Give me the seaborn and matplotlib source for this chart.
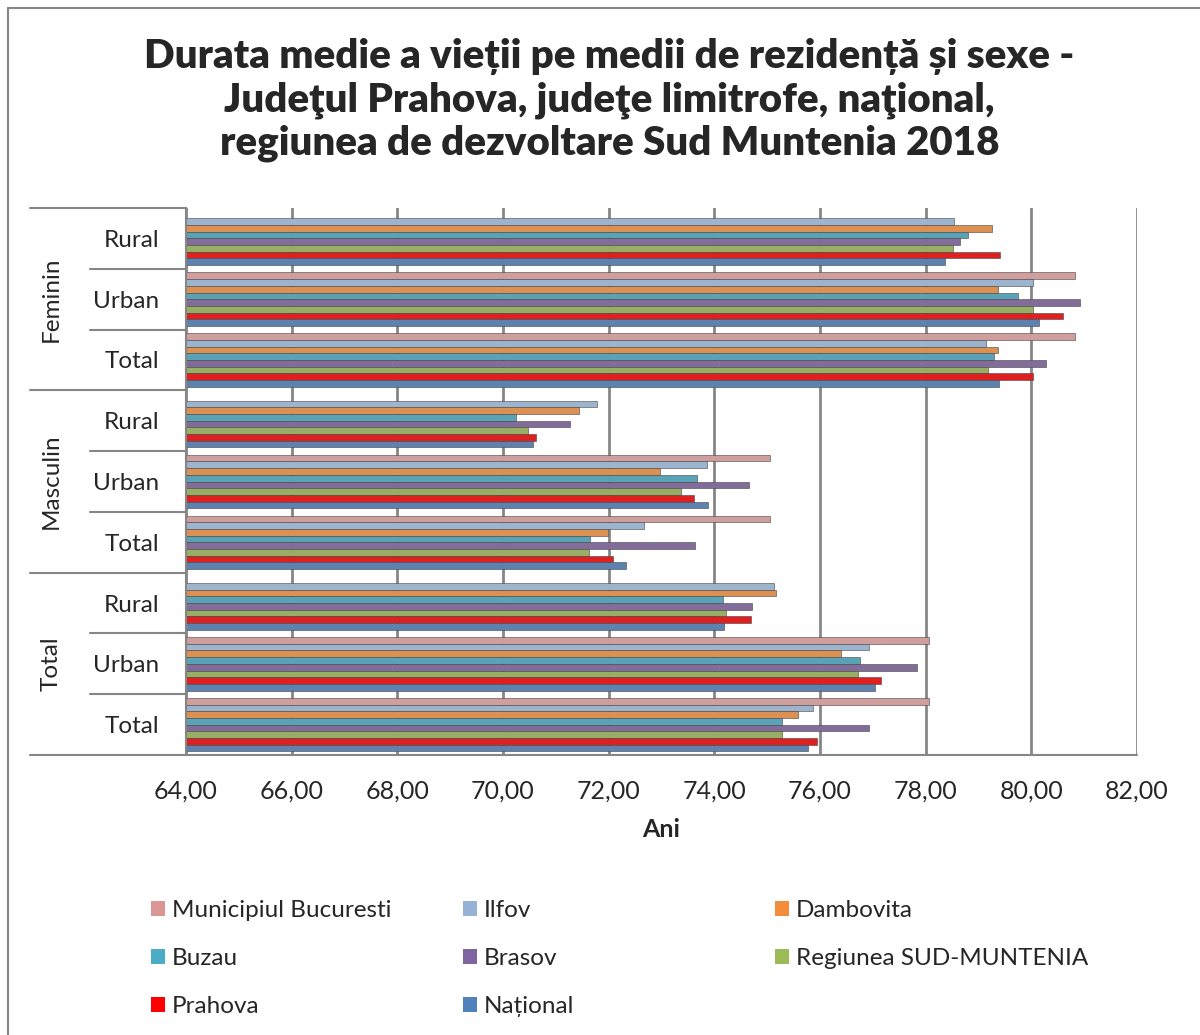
import matplotlib
matplotlib.use('Agg')
import matplotlib.pyplot as plt
from matplotlib.lines import Line2D
from matplotlib.patches import Patch
from matplotlib.ticker import FuncFormatter
import seaborn as sns
import numpy as np
import pandas as pd

# categories (top to bottom): sex / mediu
sexe = ['Feminin', 'Masculin', 'Total']
medii = ['Rural', 'Urban', 'Total']

regiuni = ['Municipiul Bucuresti', 'Ilfov', 'Dambovita', 'Buzau', 'Brasov',
           'Regiunea SUD-MUNTENIA', 'Prahova', 'Național']

# values in order F-R, F-U, F-T, M-R, M-U, M-T, T-R, T-U, T-T
bucuresti = [np.nan, 80.83, 80.83, np.nan, 75.05, 75.05, np.nan, 78.06, 78.06]
ilfov = [78.53, 80.03, 79.14, 71.78, 73.86, 72.67, 75.12, 76.92, 75.87]
dambovita = [79.25, 79.37, 79.37, 71.43, 72.98, 71.99, 75.16, 76.39, 75.58]
buzau = [78.80, 79.75, 79.29, 70.25, 73.67, 71.64, 74.17, 76.75, 75.29]
brasov = [78.65, 80.93, 80.28, 71.27, 74.66, 73.64, 74.71, 77.83, 76.92]
sud_muntenia = [78.51, 80.04, 79.18, 70.48, 73.36, 71.63, 74.22, 76.72, 75.29]
prahova = [79.40, 80.60, 80.03, 70.63, 73.62, 72.08, 74.69, 77.16, 75.95]
national = [78.36, 80.15, 79.38, 70.56, 73.88, 72.33, 74.18, 77.04, 75.77]

culori = ['#D99694', '#95B3D7', '#F38D3B', '#4BACC6', '#8064A2',
          '#9BBB59', '#FF0000', '#4F81BD']

serii = [bucuresti, ilfov, dambovita, buzau, brasov, sud_muntenia, prahova, national]
categorii = [f'{s}|{m}' for s in sexe for m in medii]

rows = []
for reg, vals in zip(regiuni, serii):
    for cat, v in zip(categorii, vals):
        if not np.isnan(v):
            rows.append({'cat': cat, 'regiune': reg, 'ani': v})
df = pd.DataFrame(rows)

sns.set_style('white')
plt.rcParams['font.family'] = ['Lato', 'DejaVu Sans']

fig = plt.figure(figsize=(12, 10.35), dpi=100)
ax = fig.add_axes([0.155, 0.2705, 0.7925, 0.5285])

sns.barplot(data=df, y='cat', x='ani', hue='regiune', order=categorii,
            hue_order=regiuni, palette=culori, orient='h', width=0.88,
            edgecolor='#444444', linewidth=0.4, legend=False, ax=ax)

ax.set_xlim(64, 82)
ax.set_ylim(8.5, -0.5)
ax.set_xticks(np.arange(64, 83, 2))
ax.xaxis.set_major_formatter(FuncFormatter(lambda x, p: f'{x:.2f}'.replace('.', ',')))
ax.set_axisbelow(True)
ax.grid(axis='x', color='#868686', linewidth=2)
ax.grid(axis='y', visible=False)
for s in ['top', 'right', 'bottom']:
    ax.spines[s].set_visible(False)
ax.spines['left'].set_color('#868686')
ax.spines['left'].set_linewidth(1.5)

ax.set_yticks(range(len(categorii)))
ax.set_yticklabels([c.split('|')[1] for c in categorii], fontsize=17.5)
ax.tick_params(axis='y', length=0, pad=19)
ax.tick_params(axis='x', length=0, pad=18, labelsize=18)
ax.set_ylabel('')
ax.set_xlabel('Ani', fontsize=18, fontweight='bold', labelpad=11)

# group separators and outer labels
tr = ax.get_yaxis_transform()
for y in [-0.5, 2.5, 5.5, 8.5]:
    ax.plot([-0.164, 1.0 if y == 8.5 else 0], [y, y], transform=tr,
            color='#868686', linewidth=1.5, clip_on=False)
for y in [0.5, 1.5, 3.5, 4.5, 6.5, 7.5]:
    ax.plot([-0.101, 0], [y, y], transform=tr, color='#868686',
            linewidth=1.5, clip_on=False)
for i, s in enumerate(sexe):
    ax.text(-0.142, 3 * i + 1, s, transform=tr, rotation=90, ha='center',
            va='center', fontsize=17.5)

fig.suptitle('Durata medie a vieții pe medii de rezidență și sexe -\n'
             'Judeţul Prahova, judeţe limitrofe, naţional,\n'
             'regiunea de dezvoltare Sud Muntenia 2018',
             x=0.508, y=0.963, fontsize=29, fontweight='heavy', linespacing=1.2)

# legend in three columns
coloane = [[0, 3, 6], [1, 4, 7], [2, 5]]
xs = [0.118, 0.378, 0.638]
for xc, idx in zip(xs, coloane):
    handles = [Patch(facecolor=culori[i], edgecolor='none') for i in idx]
    fig.legend(handles, [regiuni[i] for i in idx], loc='upper left',
               bbox_to_anchor=(xc, 0.140), frameon=False, fontsize=17.5,
               handlelength=0.55, handleheight=0.55, handletextpad=0.3,
               labelspacing=1.12, borderaxespad=0)

fig.add_artist(Line2D([0.007, 0.007], [0, 0.992], color='#868686', linewidth=1.5))
fig.add_artist(Line2D([0.007, 1.0], [0.992, 0.992], color='#868686', linewidth=1.5))

fig.savefig('out.png', dpi=100)
